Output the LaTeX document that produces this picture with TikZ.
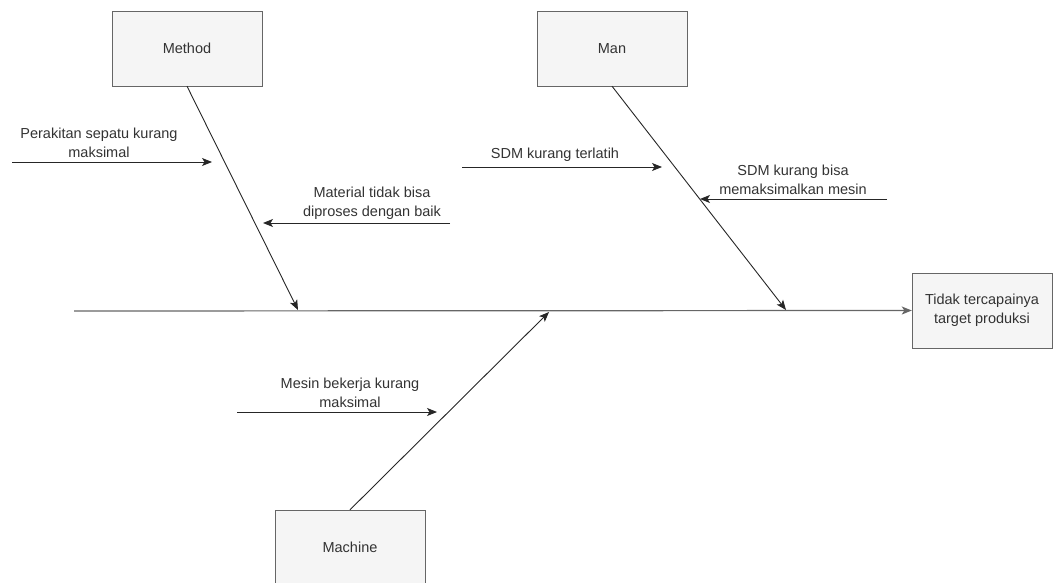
\documentclass[tikz,border=0pt]{standalone}
\usepackage{fontspec}
\setmainfont{Liberation Sans}
\usetikzlibrary{positioning,arrows.meta}
\definecolor{boxgray}{HTML}{F5F5F5}
\definecolor{linegray}{HTML}{666666}
\definecolor{txtgray}{HTML}{333333}
\tikzstyle{category} = [draw=linegray, fill=boxgray, rectangle,
    minimum width=150pt, minimum height=75pt, inner sep=0pt,
    text=txtgray, align=center]
\tikzstyle{cause} = [text=txtgray, align=center, inner sep=0pt]
\tikzstyle{bone} = [draw=black!85, line width=0.9pt,
    -{Stealth[length=10pt,width=8pt,inset=2.5pt]}]

\begin{document}
\begin{tikzpicture}[x=1pt,y=-1pt,font=\fontsize{14.5}{19}\selectfont]
\clip (0,0) rectangle (1055,583);
% categories and effect
\node (method) [category] at (187,48.5) {Method};
\node (man) [category] at (612,48.5) {Man};
\node (machine) [category] at (350,547.5) {Machine};
\node (effect) [category, minimum width=140pt] at (982,310.5) {Tidak tercapainya\\target produksi};

% spine
\coordinate (tail) at (74,311);
\draw[bone, draw=linegray, line width=1.2pt] (tail) -- (effect.west);

% main bones
\coordinate (methodhead) at (298,310);
\coordinate (manhead) at (786,310);
\coordinate (machinehead) at (549,312);
\draw[bone] (method.south) -- (methodhead);
\draw[bone] (man.south) -- (manhead);
\draw[bone] (machine.north) -- (machinehead);

% causes
\coordinate (c1a) at (12,162);  \coordinate (c1b) at (212,162);
\coordinate (c2a) at (450,223); \coordinate (c2b) at (263,223);
\coordinate (c3a) at (462,167); \coordinate (c3b) at (662,167);
\coordinate (c4a) at (887,199); \coordinate (c4b) at (700,199);
\coordinate (c5a) at (237,412); \coordinate (c5b) at (437,412);
\draw[bone] (c1a) -- (c1b);
\draw[bone] (c2a) -- (c2b);
\draw[bone] (c3a) -- (c3b);
\draw[bone] (c4a) -- (c4b);
\draw[bone] (c5a) -- (c5b);

\node (perakitan) [cause] at (99,142.5) {Perakitan sepatu kurang\\maksimal};
\node (material) [cause] at (372,203) {Material tidak bisa\\diproses dengan baik};
\node (terlatih) [cause] at (555,154.5) {SDM kurang terlatih};
\node (bisa) [cause] at (793,180) {SDM kurang bisa\\memaksimalkan mesin};
\node (mesin) [cause] at (350,392.5) {Mesin bekerja kurang\\maksimal};
\end{tikzpicture}
\end{document}
